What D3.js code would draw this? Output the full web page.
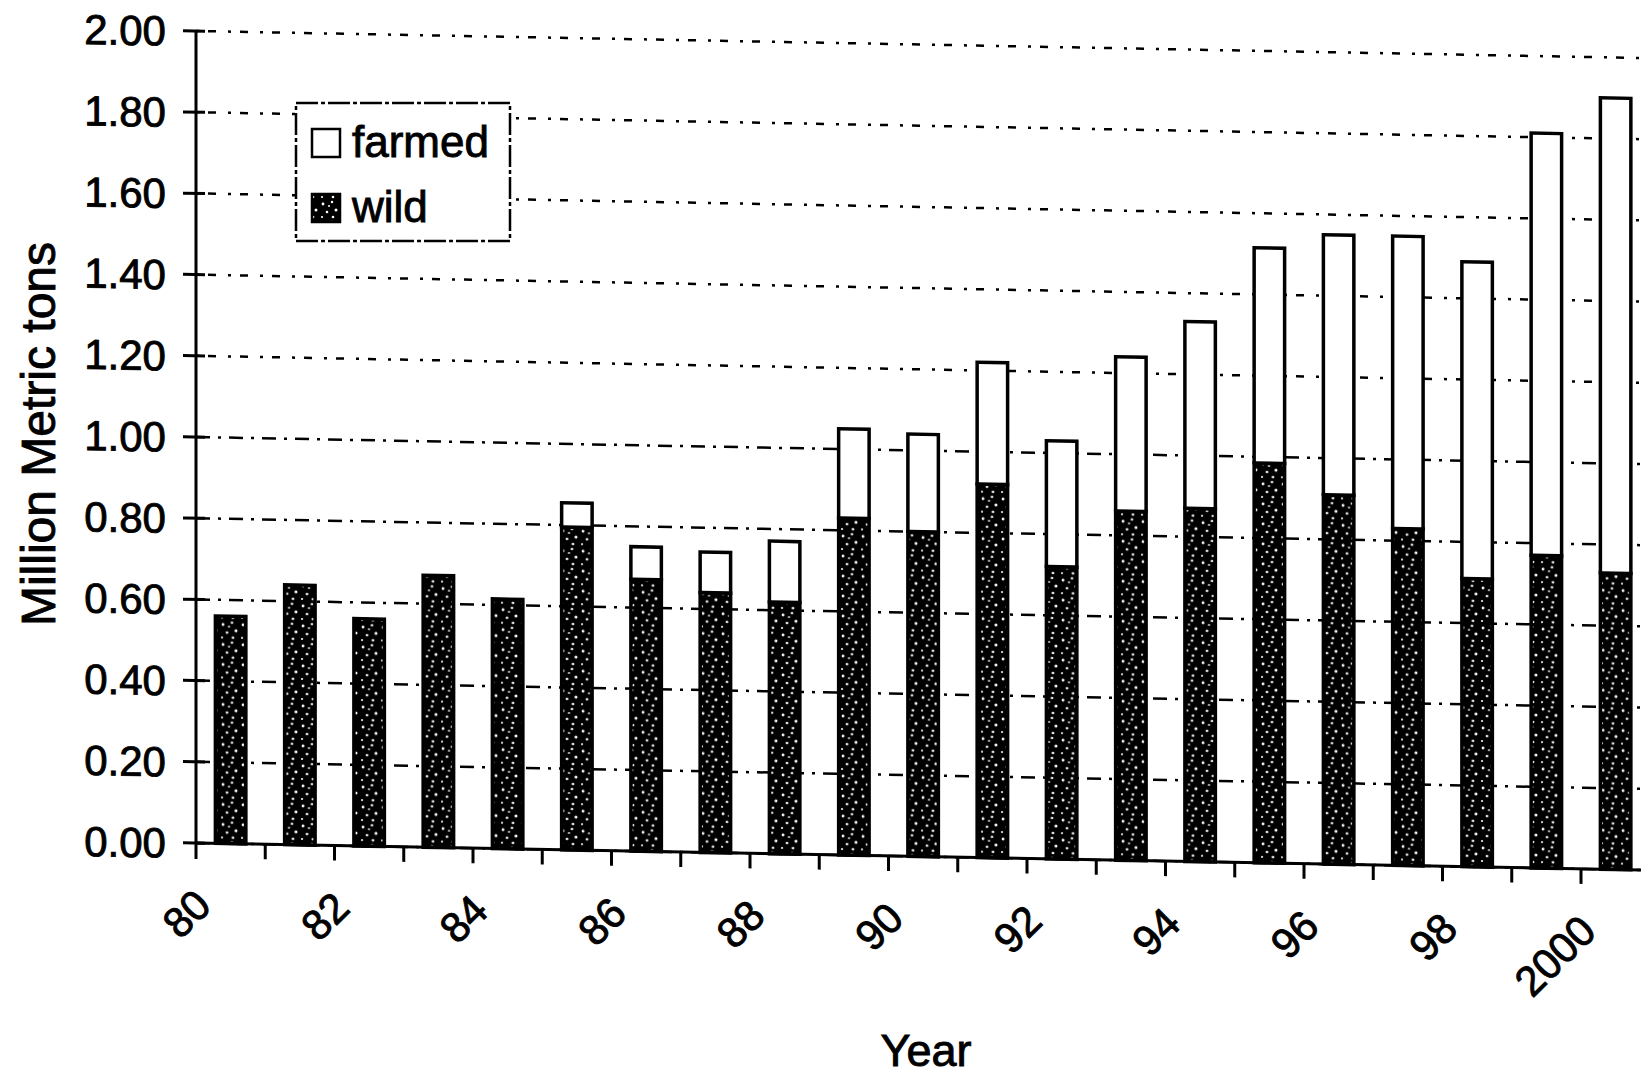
<!DOCTYPE html>
<html>
<head>
<meta charset="utf-8">
<script src="https://cdn.jsdelivr.net/npm/d3@7"></script>
<style>
body { margin: 0; background: #fff; }
svg { display: block; font-family: "Liberation Sans", Arial, sans-serif; }
svg text { stroke: #000; stroke-width: 0.9; }
</style>
</head>
<body>
<svg id="chart" width="1641" height="1082"></svg>
<script>
"use strict";

// data (million metric tons)
const years = ["80","81","82","83","84","85","86","87","88","89",
               "90","91","92","93","94","95","96","97","98","99","2000"];
const wildValues = [0.56, 0.64, 0.56, 0.67, 0.615, 0.795, 0.67, 0.64, 0.62, 0.83,
                    0.80, 0.92, 0.72, 0.86, 0.87, 0.985, 0.91, 0.83, 0.71, 0.77, 0.73];
const farmedValues = [0, 0, 0, 0, 0, 0.06, 0.08, 0.10, 0.15, 0.22,
                      0.24, 0.30, 0.31, 0.38, 0.46, 0.53, 0.64, 0.72, 0.78, 1.04, 1.17];
const yTickValues = [0, 0.2, 0.4, 0.6, 0.8, 1.0, 1.2, 1.4, 1.6, 1.8, 2.0];
const xTickLabels = ["80","82","84","86","88","90","92","94","96","98","2000"];
const seriesNames = ["farmed", "wild"];

const W = 1641, H = 1082;
const axisX = 196, baseY = 843;

const svg = d3.select("#chart");

// speckled fill for the wild bars
let pattern = svg.append("defs").append("pattern")
    .attr("id", "speckle")
    .attr("patternUnits", "userSpaceOnUse")
    .attr("width", 20).attr("height", 20);
pattern.append("rect").attr("width", 20).attr("height", 20).attr("fill", "#000");
[[3,4,1.4],[12,2,1.2],[16,10,1.5],[7,12,1.3],[2,17,1.1],[13,17,1.3],[9,6,1.0]].forEach(function(d) {
    pattern.append("circle").attr("cx", d[0]).attr("cy", d[1]).attr("r", d[2]).attr("fill", "#fff");
});

const scaleX = d3.scaleBand()
    .domain(years)
    .range([axisX, axisX + 21 * 69.25])
    .paddingInner(0.56)
    .paddingOuter(0.28);
const scaleY = d3.scaleLinear().domain([0, 2]).range([baseY, 31]);

// the scan is slightly tilted, so the plot drifts down to the right
const chart = svg.append("g")
    .attr("transform", `translate(${axisX},${baseY}) skewY(1.07) translate(${-axisX},${-baseY})`);

// gridlines
chart.append("g")
    .selectAll("line")
    .data(yTickValues)
    .join("line")
    .attr("x1", axisX).attr("x2", W)
    .attr("y1", d => scaleY(d)).attr("y2", d => scaleY(d))
    .attr("stroke", "#000")
    .attr("stroke-width", 2.5)
    .attr("stroke-dasharray", d => d >= 1.2 ? "3,9,8,12" : "14,8,3,8");

// bars
let rows = years.map((y, i) => ({year: y, wild: wildValues[i], farmed: farmedValues[i]}));
let stacked = d3.stack().keys(["wild", "farmed"])(rows);
chart.append("g")
    .selectAll("g")
    .data(stacked)
    .join("g")
    .attr("fill", d => d.key === "wild" ? "url(#speckle)" : "#fff")
    .selectAll("rect")
    .data(d => d.filter(p => p[1] - p[0] > 0))
    .join("rect")
    .attr("x", d => scaleX(d.data.year))
    .attr("width", scaleX.bandwidth())
    .attr("y", d => scaleY(d[1]))
    .attr("height", d => scaleY(d[0]) - scaleY(d[1]))
    .attr("stroke", "#000")
    .attr("stroke-width", 3.5);

// y axis
chart.append("line")
    .attr("x1", axisX).attr("x2", axisX)
    .attr("y1", scaleY(2)).attr("y2", baseY + 16)
    .attr("stroke", "#000").attr("stroke-width", 3);
chart.append("g")
    .selectAll("line")
    .data(yTickValues)
    .join("line")
    .attr("x1", axisX - 13).attr("x2", axisX + 9)
    .attr("y1", d => scaleY(d)).attr("y2", d => scaleY(d))
    .attr("stroke", "#000").attr("stroke-width", 3);
chart.append("g")
    .selectAll("text")
    .data(yTickValues)
    .join("text")
    .attr("x", 166)
    .attr("y", d => scaleY(d))
    .attr("dy", "0.36em")
    .attr("text-anchor", "end")
    .attr("font-size", 42)
    .text(d => d3.format(".2f")(d));

// x axis
chart.append("line")
    .attr("x1", axisX).attr("x2", W)
    .attr("y1", baseY).attr("y2", baseY)
    .attr("stroke", "#000").attr("stroke-width", 3);
chart.append("g")
    .selectAll("line")
    .data(years)
    .join("line")
    .attr("x1", d => scaleX(d) + scaleX.bandwidth() + scaleX.step() * 0.28)
    .attr("x2", d => scaleX(d) + scaleX.bandwidth() + scaleX.step() * 0.28)
    .attr("y1", baseY).attr("y2", baseY + 15)
    .attr("stroke", "#000").attr("stroke-width", 3);
chart.append("g")
    .selectAll("text")
    .data(xTickLabels)
    .join("text")
    .attr("transform", d => {
        let cx = scaleX(d) + scaleX.bandwidth() / 2 - 28;
        return `translate(${cx},${baseY + 54}) rotate(-45)`;
    })
    .attr("dy", "0.36em")
    .attr("text-anchor", "end")
    .attr("font-size", 42)
    .text(d => d);

// legend
let legend = svg.append("g");
legend.append("rect")
    .attr("x", 296).attr("y", 103).attr("width", 214).attr("height", 138)
    .attr("fill", "#fff").attr("stroke", "#000").attr("stroke-width", 2.5)
    .attr("stroke-dasharray", "22,3,4,3");
seriesNames.forEach(function(name, i) {
    legend.append("rect")
        .attr("x", 312).attr("y", 129 + i * 65).attr("width", 28).attr("height", 28)
        .attr("fill", name === "wild" ? "url(#speckle)" : "#fff")
        .attr("stroke", "#000").attr("stroke-width", 2.5);
    legend.append("text")
        .attr("x", 352).attr("y", 157 + i * 65)
        .attr("font-size", 44)
        .text(name);
});

// axis titles
svg.append("text")
    .attr("x", 926).attr("y", 1066)
    .attr("text-anchor", "middle")
    .attr("font-size", 45)
    .text("Year");
svg.append("text")
    .attr("transform", "translate(38,434) rotate(-90)")
    .attr("dy", "0.36em")
    .attr("text-anchor", "middle")
    .attr("font-size", 48)
    .text("Million Metric tons");
</script>
</body>
</html>
